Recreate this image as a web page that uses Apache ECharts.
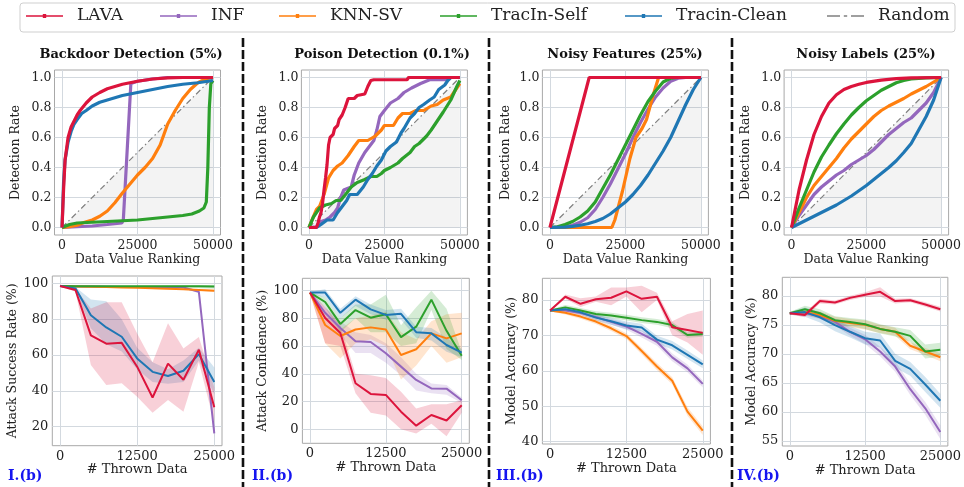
<!DOCTYPE html>
<html><head><meta charset="utf-8">
<script src="https://cdn.jsdelivr.net/npm/echarts@6/dist/echarts.min.js"></script>
<style>html,body{margin:0;padding:0;background:#fff}#c{width:964px;height:487px}</style>
</head><body><div id="c"></div>
<script>
// ---------- categories / ticks ----------
const methods = ['INF', 'KNN-SV', 'TracIn-Self', 'Tracin-Clean', 'LAVA'];
const legendOrder = ['LAVA', 'INF', 'KNN-SV', 'TracIn-Self', 'Tracin-Clean', 'Random'];
const rankTicks = [0, 25000, 50000];
const rateTicks = [0, 0.2, 0.4, 0.6, 0.8, 1.0];
const thrown = [0, 2500, 5000, 7500, 10000, 12500, 15000, 17500, 20000, 22500, 25000];
const thrownTicks = [0, 12500, 25000];
const asrTicks = [20, 40, 60, 80, 100];
const acfTicks = [0, 20, 40, 60, 80, 100];
const nfTicks = [40, 50, 60, 70, 80];
const nlTicks = [55, 60, 65, 70, 75, 80];
const randomLine = [[0, 0], [50000, 1]];

// ---------- top row: detection rate vs data value ranking ----------
const bdLava = [[0,0],[500,0.25],[1000,0.45],[2000,0.6],[3000,0.67],[4000,0.71],[5000,0.75],[6000,0.78],[8000,0.83],[10000,0.87],[12500,0.9],[15000,0.925],[20000,0.955],[25000,0.975],[30000,0.99],[35000,0.997],[40000,1],[50000,1]];
const bdClean = [[0,0],[500,0.3],[1000,0.45],[2000,0.57],[3000,0.64],[4000,0.69],[5000,0.72],[6500,0.76],[8000,0.78],[10000,0.81],[12500,0.835],[15000,0.85],[20000,0.88],[25000,0.9],[30000,0.92],[35000,0.94],[40000,0.955],[45000,0.965],[50000,0.98]];
const bdInf = [[0,0],[5000,0.005],[10000,0.01],[15000,0.02],[19800,0.03],[20300,0.05],[22800,0.96],[25000,0.975],[30000,0.99],[35000,1],[50000,1]];
const bdKnn = [[0,0],[2500,0.005],[5000,0.015],[7500,0.035],[10000,0.05],[12500,0.075],[15000,0.11],[17500,0.165],[20000,0.23],[22500,0.29],[25000,0.35],[27500,0.4],[30000,0.46],[32500,0.55],[35000,0.69],[37500,0.78],[40000,0.86],[42500,0.92],[45000,0.965],[47500,0.99],[50000,1]];
const bdSelf = [[0,0],[2500,0.02],[5000,0.03],[10000,0.035],[15000,0.04],[20000,0.045],[25000,0.05],[30000,0.06],[35000,0.07],[40000,0.08],[43000,0.09],[45500,0.11],[47000,0.13],[47800,0.17],[48300,0.4],[48800,0.8],[49300,0.96],[50000,0.98]];

const pdLava = [[0,0],[2500,0],[3000,0.03],[3500,0.07],[4000,0.1],[4500,0.16],[5000,0.25],[5500,0.33],[6000,0.42],[6500,0.55],[7000,0.6],[8000,0.62],[8500,0.66],[9500,0.68],[10000,0.72],[11000,0.75],[12000,0.8],[13000,0.86],[15000,0.86],[16000,0.88],[18500,0.89],[19500,0.94],[20500,0.98],[21500,0.985],[32500,0.985],[33000,1],[50000,1]];
const pdInf = [[0,0],[2500,0.005],[4000,0.04],[5500,0.05],[7000,0.07],[8500,0.1],[9500,0.13],[10500,0.2],[11500,0.25],[14000,0.27],[15000,0.35],[16500,0.43],[18500,0.5],[20000,0.54],[21500,0.58],[22500,0.65],[23500,0.74],[25000,0.78],[27000,0.83],[29500,0.86],[31500,0.9],[34000,0.93],[37000,0.96],[40000,0.985],[45000,0.985],[47000,1],[50000,1]];
const pdKnn = [[0,0],[1000,0.05],[2500,0.12],[3500,0.14],[5000,0.22],[6500,0.33],[8000,0.38],[9500,0.41],[11000,0.43],[13000,0.48],[15000,0.54],[16500,0.58],[19500,0.58],[22000,0.61],[24000,0.65],[25000,0.68],[28000,0.68],[29500,0.73],[31000,0.76],[33500,0.76],[35500,0.78],[38000,0.78],[40500,0.81],[42500,0.82],[44500,0.85],[47000,0.87],[49000,0.93],[50000,0.96]];
const pdSelf = [[0,0],[1500,0.07],[3500,0.13],[5500,0.15],[7500,0.16],[9000,0.18],[10500,0.18],[12500,0.23],[14000,0.27],[16000,0.3],[18500,0.32],[20500,0.34],[22500,0.34],[24000,0.36],[25000,0.38],[27000,0.4],[29500,0.43],[31000,0.46],[33500,0.5],[35000,0.54],[36500,0.56],[39000,0.61],[40500,0.65],[42500,0.71],[44500,0.77],[47000,0.85],[49000,0.94],[50000,0.98]];
const pdClean = [[0,0],[2500,0],[4000,0.02],[6000,0.05],[8000,0.05],[9500,0.1],[11000,0.14],[12500,0.18],[13500,0.22],[16000,0.22],[18000,0.27],[19500,0.32],[21000,0.36],[22500,0.41],[24000,0.45],[25500,0.51],[27000,0.54],[29000,0.57],[30500,0.63],[31500,0.66],[33500,0.73],[35000,0.76],[36500,0.8],[38000,0.82],[40000,0.85],[41500,0.87],[43000,0.92],[45000,0.95],[46000,0.98],[47000,1],[50000,1]];

const fdLava = [[0,0],[13000,1],[50000,1]];
const fdKnn = [[0,0],[20500,0],[21500,0.05],[24000,0.24],[26500,0.46],[28500,0.6],[30500,0.66],[32000,0.72],[34000,0.87],[36000,1],[50000,1]];
const fdSelf = [[0,0],[2500,0.005],[5000,0.02],[7500,0.04],[10000,0.07],[12500,0.11],[15000,0.17],[17500,0.26],[20000,0.35],[22500,0.45],[25000,0.55],[27500,0.65],[30000,0.75],[32500,0.84],[35000,0.91],[37500,0.97],[40000,0.995],[42500,1],[50000,1]];
const fdInf = [[0,0],[5000,0.005],[7500,0.015],[10000,0.035],[12500,0.065],[15000,0.12],[17500,0.2],[20000,0.29],[22500,0.39],[25000,0.49],[27500,0.6],[30000,0.7],[32500,0.79],[35000,0.87],[37500,0.93],[40000,0.975],[42500,0.995],[45000,1],[50000,1]];
const fdClean = [[0,0],[5000,0.003],[7500,0.008],[10000,0.015],[12500,0.025],[15000,0.04],[17500,0.06],[20000,0.09],[22500,0.13],[25000,0.17],[27500,0.22],[30000,0.28],[32500,0.35],[35000,0.43],[37500,0.51],[40000,0.6],[42500,0.71],[45000,0.82],[47500,0.92],[50000,1]];

const ldLava = [[0,0],[1000,0.1],[2500,0.25],[5000,0.45],[7500,0.62],[10000,0.74],[12500,0.83],[15000,0.885],[17500,0.92],[20000,0.94],[22500,0.955],[25000,0.967],[30000,0.983],[35000,0.992],[40000,0.997],[50000,1]];
const ldSelf = [[0,0],[1000,0.05],[2500,0.13],[5000,0.25],[7500,0.37],[10000,0.47],[12500,0.55],[15000,0.625],[17500,0.69],[20000,0.75],[22500,0.8],[25000,0.845],[27500,0.88],[30000,0.915],[32500,0.94],[35000,0.965],[37500,0.98],[40000,0.99],[45000,0.998],[50000,1]];
const ldKnn = [[0,0],[1000,0.04],[2500,0.1],[5000,0.2],[7500,0.28],[10000,0.34],[12500,0.4],[15000,0.46],[17500,0.53],[20000,0.59],[22500,0.64],[25000,0.69],[27500,0.74],[30000,0.78],[32500,0.81],[35000,0.835],[37500,0.86],[40000,0.89],[42500,0.915],[45000,0.94],[47500,0.97],[50000,1]];
const ldInf = [[0,0],[1000,0.03],[2500,0.08],[5000,0.15],[7500,0.22],[10000,0.27],[12500,0.31],[15000,0.35],[17500,0.38],[20000,0.42],[22500,0.45],[25000,0.48],[27500,0.52],[30000,0.57],[32500,0.62],[35000,0.66],[37500,0.7],[40000,0.73],[42500,0.78],[45000,0.83],[47500,0.9],[50000,1]];
const ldClean = [[0,0],[2500,0.025],[5000,0.05],[7500,0.075],[10000,0.1],[12500,0.125],[15000,0.15],[17500,0.18],[20000,0.21],[22500,0.245],[25000,0.28],[27500,0.32],[30000,0.36],[32500,0.4],[35000,0.445],[37500,0.5],[40000,0.56],[42500,0.65],[45000,0.74],[47500,0.85],[50000,1]];

// ---------- bottom row: metric vs # thrown data (mean, low, high) ----------
const asrInf = [98.5, 98.3, 98.2, 98.1, 98.0, 98.0, 97.9, 97.8, 97.7, 95.3, 16.3];
const asrInfLo = [98.2, 98.0, 97.9, 97.8, 97.7, 97.6, 97.5, 97.4, 97.2, 94.5, 14.0];
const asrInfHi = [98.8, 98.6, 98.5, 98.4, 98.3, 98.4, 98.3, 98.2, 98.2, 96.1, 18.6];
const asrKnn = [98.5, 98.3, 98.1, 97.9, 97.7, 97.5, 97.3, 97.0, 96.7, 96.3, 95.9];
const asrKnnLo = [98.2, 98.0, 97.8, 97.6, 97.4, 97.2, 96.9, 96.6, 96.3, 95.8, 95.3];
const asrKnnHi = [98.8, 98.6, 98.4, 98.2, 98.0, 97.8, 97.7, 97.4, 97.1, 96.8, 96.5];
const asrSelf = [98.5, 98.4, 98.4, 98.4, 98.4, 98.4, 98.4, 98.4, 98.4, 98.4, 98.3];
const asrSelfLo = [98.2, 98.1, 98.1, 98.1, 98.1, 98.1, 98.1, 98.0, 97.8, 97.3, 97.0];
const asrSelfHi = [98.8, 98.7, 98.7, 98.7, 98.7, 98.7, 98.7, 98.8, 98.9, 99.0, 99.2];
const asrClean = [98.5, 97.2, 82.2, 75.4, 70.2, 58.1, 50.6, 48.3, 51.2, 60.5, 45.0];
const asrCleanLo = [98.2, 96.5, 75.0, 66.0, 62.0, 52.0, 45.0, 44.0, 45.0, 57.0, 38.0];
const asrCleanHi = [98.8, 97.9, 91.0, 90.0, 80.0, 64.0, 56.0, 52.0, 57.0, 64.0, 53.0];
const asrLava = [98.5, 96.3, 71.0, 66.3, 66.8, 53.5, 36.3, 55.2, 46.2, 63.0, 30.8];
const asrLavaLo = [98.2, 95.5, 54.4, 43.3, 44.2, 36.7, 27.8, 34.9, 28.4, 56.0, 22.0];
const asrLavaHi = [98.8, 97.0, 86.0, 89.4, 89.5, 72.0, 56.0, 77.7, 63.7, 70.0, 42.0];

const acfInf = [98.6, 84.0, 73.0, 63.5, 63.0, 54.8, 45.2, 35.6, 29.5, 29.3, 21.0];
const acfInfLo = [98.0, 80.0, 68.0, 55.0, 55.0, 48.0, 39.0, 28.0, 26.0, 25.0, 19.0];
const acfInfHi = [99.2, 88.0, 78.0, 70.0, 68.0, 62.0, 52.0, 40.0, 33.0, 32.0, 23.0];
const acfKnn = [98.6, 75.2, 67.3, 72.0, 73.5, 72.0, 53.6, 57.7, 69.2, 65.6, 69.2];
const acfKnnLo = [98.0, 62.0, 51.0, 62.0, 65.0, 60.0, 36.0, 46.0, 60.0, 48.0, 52.0];
const acfKnnHi = [99.2, 82.0, 72.0, 80.0, 82.0, 85.0, 70.0, 65.0, 78.0, 83.0, 84.0];
const acfSelf = [98.6, 91.8, 76.0, 86.0, 80.5, 83.0, 66.5, 74.0, 93.5, 71.0, 53.0];
const acfSelfLo = [98.0, 88.0, 70.0, 80.0, 70.0, 70.0, 60.0, 62.0, 86.0, 58.0, 50.0];
const acfSelfHi = [99.2, 95.0, 80.0, 90.0, 90.0, 97.0, 75.0, 88.0, 100.0, 87.0, 56.0];
const acfClean = [98.6, 98.6, 84.0, 93.5, 86.5, 82.5, 83.3, 70.0, 69.2, 60.8, 55.3];
const acfCleanLo = [98.0, 95.0, 80.0, 89.0, 83.0, 79.0, 79.0, 66.0, 64.0, 56.0, 52.0];
const acfCleanHi = [99.2, 101.0, 87.0, 96.0, 90.0, 86.0, 87.0, 74.0, 73.0, 66.0, 58.0];
const acfLava = [98.6, 80.3, 69.5, 33.2, 25.5, 24.8, 12.7, 2.6, 10.3, 6.3, 17.3];
const acfLavaLo = [98.0, 62.0, 60.0, 26.0, 12.0, 10.0, 0.0, -3.0, 4.0, -5.0, 12.0];
const acfLavaHi = [99.2, 88.0, 75.0, 40.0, 39.0, 37.0, 27.0, 15.0, 18.0, 18.0, 21.0];

const nfInf = [77.0, 77.0, 76.3, 75.2, 73.8, 72.5, 70.4, 68.2, 63.8, 60.7, 56.3];
const nfInfLo = [76.8, 76.5, 75.7, 74.5, 73.0, 71.6, 69.4, 67.1, 62.7, 59.6, 55.3];
const nfInfHi = [77.2, 77.5, 76.9, 75.9, 74.6, 73.4, 71.4, 69.3, 64.9, 61.8, 57.3];
const nfKnn = [77.0, 76.4, 75.3, 73.9, 72.0, 69.8, 65.6, 61.2, 57.2, 48.5, 43.1];
const nfKnnLo = [76.8, 75.9, 74.7, 73.2, 71.2, 69.0, 64.7, 60.2, 56.2, 47.3, 41.9];
const nfKnnHi = [77.2, 76.9, 75.9, 74.6, 72.8, 70.6, 66.5, 62.2, 58.2, 49.7, 44.3];
const nfSelf = [77.0, 77.9, 77.0, 76.0, 75.6, 75.0, 74.3, 73.8, 72.9, 70.1, 70.4];
const nfSelfLo = [76.8, 77.2, 76.3, 75.2, 74.8, 74.2, 73.5, 73.0, 72.0, 69.3, 69.6];
const nfSelfHi = [77.2, 78.6, 77.7, 76.8, 76.4, 75.8, 75.1, 74.6, 73.8, 70.9, 71.2];
const nfClean = [77.0, 77.4, 76.5, 75.0, 74.0, 72.8, 72.2, 68.8, 67.2, 64.5, 61.8];
const nfCleanLo = [76.8, 76.9, 75.8, 74.1, 73.0, 71.7, 71.1, 67.7, 66.0, 63.3, 60.7];
const nfCleanHi = [77.2, 77.9, 77.2, 75.9, 75.0, 73.9, 73.3, 69.9, 68.4, 65.7, 62.9];
const nfLava = [77.0, 80.9, 78.9, 80.2, 80.6, 82.4, 80.3, 80.9, 72.3, 71.5, 70.7];
const nfLavaLo = [76.8, 80.3, 78.0, 79.5, 78.5, 81.0, 76.5, 80.0, 70.0, 68.0, 64.5];
const nfLavaHi = [77.2, 81.5, 80.5, 81.0, 83.5, 83.5, 84.0, 82.0, 74.0, 76.0, 77.0];

const nlInf = [77.0, 77.0, 76.5, 75.5, 73.8, 72.5, 70.4, 67.8, 63.9, 60.6, 56.5];
const nlInfLo = [76.8, 76.6, 76.0, 74.9, 73.1, 71.7, 69.6, 66.9, 62.9, 59.5, 55.3];
const nlInfHi = [77.2, 77.4, 77.0, 76.1, 74.5, 73.3, 71.2, 68.7, 64.9, 61.7, 57.7];
const nlKnn = [77.0, 77.2, 76.7, 75.7, 75.3, 75.0, 74.3, 73.8, 71.4, 70.4, 69.4];
const nlKnnLo = [76.8, 76.7, 76.1, 75.0, 74.6, 74.2, 73.6, 73.1, 70.8, 69.8, 68.7];
const nlKnnHi = [77.2, 77.7, 77.3, 76.4, 76.0, 75.8, 75.0, 74.5, 72.0, 71.0, 70.1];
const nlSelf = [77.0, 77.7, 77.0, 75.8, 75.5, 75.1, 74.3, 73.8, 73.1, 70.4, 70.7];
const nlSelfLo = [76.8, 77.1, 76.3, 75.1, 74.8, 74.3, 73.5, 73.0, 72.1, 69.2, 69.5];
const nlSelfHi = [77.2, 78.3, 77.7, 76.5, 76.2, 75.9, 75.1, 74.6, 74.1, 71.6, 71.9];
const nlClean = [77.0, 77.2, 76.3, 74.95, 73.8, 72.7, 72.3, 68.8, 67.4, 64.7, 61.9];
const nlCleanLo = [76.8, 76.4, 75.4, 73.9, 72.8, 71.6, 71.1, 67.6, 66.2, 63.4, 60.7];
const nlCleanHi = [77.2, 78.0, 77.2, 76.0, 74.8, 73.8, 73.5, 70.0, 68.6, 66.0, 63.1];
const nlLava = [77.0, 76.7, 79.1, 78.85, 79.65, 80.2, 80.7, 79.1, 79.25, 78.5, 77.7];
const nlLavaLo = [76.8, 76.3, 78.7, 78.5, 79.3, 79.8, 79.9, 78.7, 78.9, 78.1, 77.3];
const nlLavaHi = [77.2, 77.1, 79.5, 79.2, 80.0, 80.6, 81.5, 79.5, 79.6, 78.9, 78.1];

// ---------- styling / layout ----------
const COLORS = {'LAVA':'#dc143c','INF':'#9467bd','KNN-SV':'#ff7f0e','TracIn-Self':'#2ca02c','Tracin-Clean':'#1f77b4','Random':'#808080'};
const FONT = 'DejaVu Serif';

const topPanels = [
  {title:'Backdoor Detection (5%)', tx:131, left:54.5, gap:32, curves:[bdInf, bdKnn, bdSelf, bdClean, bdLava]},
  {title:'Poison Detection (0.1%)', tx:382, left:301.4, gap:32, curves:[pdInf, pdKnn, pdSelf, pdClean, pdLava]},
  {title:'Noisy Features (25%)', tx:625, left:542.4, gap:30, curves:[fdInf, fdKnn, fdSelf, fdClean, fdLava]},
  {title:'Noisy Labels (25%)', tx:866, left:784.1, gap:32, curves:[ldInf, ldKnn, ldSelf, ldClean, ldLava]}
];
const botPanels = [
  {name:'Attack Success Rate (%)', tag:'I.(b)', tagX:8, left:52.3, width:169.7, top:276, height:169.7, min:9.4, max:104.1, ticks:asrTicks, gap:32, xgap:16,
   mean:[asrInf, asrKnn, asrSelf, asrClean, asrLava], lo:[asrInfLo, asrKnnLo, asrSelfLo, asrCleanLo, asrLavaLo], hi:[asrInfHi, asrKnnHi, asrSelfHi, asrCleanHi, asrLavaHi]},
  {name:'Attack Confidence (%)', tag:'II.(b)', tagX:252, left:302.4, width:166.9, top:278.3, height:165, min:-10.1, max:108.9, ticks:acfTicks, gap:32, xgap:17,
   mean:[acfInf, acfKnn, acfSelf, acfClean, acfLava], lo:[acfInfLo, acfKnnLo, acfSelfLo, acfCleanLo, acfLavaLo], hi:[acfInfHi, acfKnnHi, acfSelfHi, acfCleanHi, acfLavaHi]},
  {name:'Model Accuracy (%)', tag:'III.(b)', tagX:496, left:542.4, width:168, top:278.3, height:165.7, min:39.35, max:86.1, ticks:nfTicks, gap:23, xgap:17,
   mean:[nfInf, nfKnn, nfSelf, nfClean, nfLava], lo:[nfInfLo, nfKnnLo, nfSelfLo, nfCleanLo, nfLavaLo], hi:[nfInfHi, nfKnnHi, nfSelfHi, nfCleanHi, nfLavaHi]},
  {name:'Model Accuracy (%)', tag:'IV.(b)', tagX:737, left:782.3, width:169.4, top:277.3, height:168.7, min:54.1, max:83.2, ticks:nlTicks, gap:22, xgap:15,
   mean:[nlInf, nlKnn, nlSelf, nlClean, nlLava], lo:[nlInfLo, nlKnnLo, nlSelfLo, nlCleanLo, nlLavaLo], hi:[nlInfHi, nlKnnHi, nlSelfHi, nlCleanHi, nlLavaHi]}
];

const grid = [], xAxis = [], yAxis = [], series = [], graphic = [];
const splitStyle = {lineStyle:{color:'#d3d9df', width:1}};
const labelStyle = {fontFamily:FONT, fontSize:12.5, color:'#222'};
const nameStyle = {fontFamily:FONT, fontSize:12.5, color:'#222'};

function bandSeries(gi, lo, hi, color) {
  const pts = thrown.map((x, i) => [x, lo[i], hi[i]]);
  return {type:'custom', xAxisIndex:gi, yAxisIndex:gi, data:pts, encode:{x:0, y:[1,2]}, silent:true, z:1, animation:false,
    renderItem:(params, api) => {
      if (params.dataIndex !== 0) return null;
      const up = pts.map(p => api.coord([p[0], p[2]]));
      const dn = pts.map(p => api.coord([p[0], p[1]])).reverse();
      return {type:'polygon', shape:{points:up.concat(dn)}, style:{fill:color, opacity:0.2}};
    }};
}

topPanels.forEach((p, i) => {
  grid.push({left:p.left, top:70, width:166, height:165, show:true, borderColor:'#a8a8a8', borderWidth:1, backgroundColor:'#fff'});
  xAxis.push({type:'value', gridIndex:i, min:-2500, max:52500,
    axisLine:{show:false}, axisTick:{show:false, customValues:rankTicks},
    axisLabel:{customValues:rankTicks, formatter:v => String(v), margin:4, ...labelStyle},
    splitLine:splitStyle, name:'Data Value Ranking', nameLocation:'middle', nameGap:16, nameTextStyle:nameStyle});
  yAxis.push({type:'value', gridIndex:i, min:-0.05, max:1.05,
    axisLine:{show:false}, axisTick:{show:false, customValues:rateTicks},
    axisLabel:{customValues:rateTicks, formatter:v => v.toFixed(1), margin:3, ...labelStyle},
    splitLine:splitStyle, name:'Detection Rate', nameLocation:'middle', nameGap:p.gap, nameTextStyle:nameStyle});
  series.push({type:'line', name:'Random', xAxisIndex:i, yAxisIndex:i, data:randomLine, showSymbol:false, symbol:'none',
    lineStyle:{color:COLORS.Random, width:1.2, type:[6,3,1.5,3]}, itemStyle:{color:COLORS.Random},
    areaStyle:{color:'rgba(0,0,0,0.065)'}, z:1, animation:false, silent:true});
  methods.forEach((m, k) => {
    series.push({type:'line', name:m, xAxisIndex:i, yAxisIndex:i, data:p.curves[k], showSymbol:false, symbol:'none',
      lineStyle:{color:COLORS[m], width:3.2}, itemStyle:{color:COLORS[m]}, z:2+k, animation:false, silent:true});
  });
  graphic.push({type:'text', x:p.tx, y:55, style:{text:p.title, font:'bold 13px "DejaVu Serif"', fill:'#111', align:'center', verticalAlign:'middle'}});
});

botPanels.forEach((p, j) => {
  const gi = 4 + j;
  grid.push({left:p.left, top:p.top, width:p.width, height:p.height, show:true, borderColor:'#a8a8a8', borderWidth:1, backgroundColor:'#fff'});
  xAxis.push({type:'value', gridIndex:gi, min:-1250, max:26250,
    axisLine:{show:false}, axisTick:{show:false, customValues:thrownTicks},
    axisLabel:{customValues:thrownTicks, formatter:v => String(v), margin:4, ...labelStyle, fontSize:13},
    splitLine:splitStyle, name:'# Thrown Data', nameLocation:'middle', nameGap:p.xgap, nameTextStyle:{...nameStyle, fontSize:13}});
  yAxis.push({type:'value', gridIndex:gi, min:p.min, max:p.max,
    axisLine:{show:false}, axisTick:{show:false, customValues:p.ticks},
    axisLabel:{customValues:p.ticks, formatter:v => String(v), margin:4, ...labelStyle, fontSize:13},
    splitLine:splitStyle, name:p.name, nameLocation:'middle', nameGap:p.gap, nameTextStyle:nameStyle});
  methods.forEach((m, k) => {
    series.push(bandSeries(gi, p.lo[k], p.hi[k], COLORS[m]));
  });
  methods.forEach((m, k) => {
    series.push({type:'line', name:m, xAxisIndex:gi, yAxisIndex:gi, data:thrown.map((x, i) => [x, p.mean[k][i]]),
      showSymbol:false, symbol:'none', lineStyle:{color:COLORS[m], width:2}, itemStyle:{color:COLORS[m]},
      z:3+k, animation:false, silent:true});
  });
  graphic.push({type:'text', x:p.tagX, y:476, style:{text:p.tag, font:'bold 14px "DejaVu Serif"', fill:'#1515f0', align:'left', verticalAlign:'middle'}});
});

[243, 489, 732].forEach(x => {
  graphic.push({type:'line', shape:{x1:x, y1:38, x2:x, y2:487}, style:{stroke:'#111', lineWidth:2.6, lineDash:[9,3]}});
});
graphic.push({type:'rect', shape:{x:20, y:3, width:935, height:29, r:3}, style:{fill:'none', stroke:'#cfcfcf', lineWidth:1}, z:-1});

const lineIcon = 'path://M0,1.2L37,1.2L37,2.8L0,2.8Z M16.8,0L20.2,0L20.2,4L16.8,4Z';
const dashIcon = 'path://M0,0L13,0L13,1.6L0,1.6Z M16.8,0L20.2,0L20.2,1.6L16.8,1.6Z M24,0L37,0L37,1.6L24,1.6Z';
const legendX = [26, 160, 279, 440, 625, 827];
const legend = legendOrder.map((name, i) => ({
  data:[name], left:legendX[i], top:6, padding:0, orient:'horizontal',
  icon: name === 'Random' ? dashIcon : lineIcon,
  itemWidth:37, itemHeight: name === 'Random' ? 1.6 : 4,
  itemStyle:{borderWidth:0}, lineStyle:{width:0},
  textStyle:{fontFamily:FONT, fontSize:17, color:'#222', padding:[0,0,0,9], lineHeight:20},
  selectedMode:false
}));

const chart = echarts.init(document.getElementById('c'), null, {renderer:'canvas'});
chart.setOption({animation:false, backgroundColor:'#fff', legend, grid, xAxis, yAxis, series, graphic});
</script></body></html>
